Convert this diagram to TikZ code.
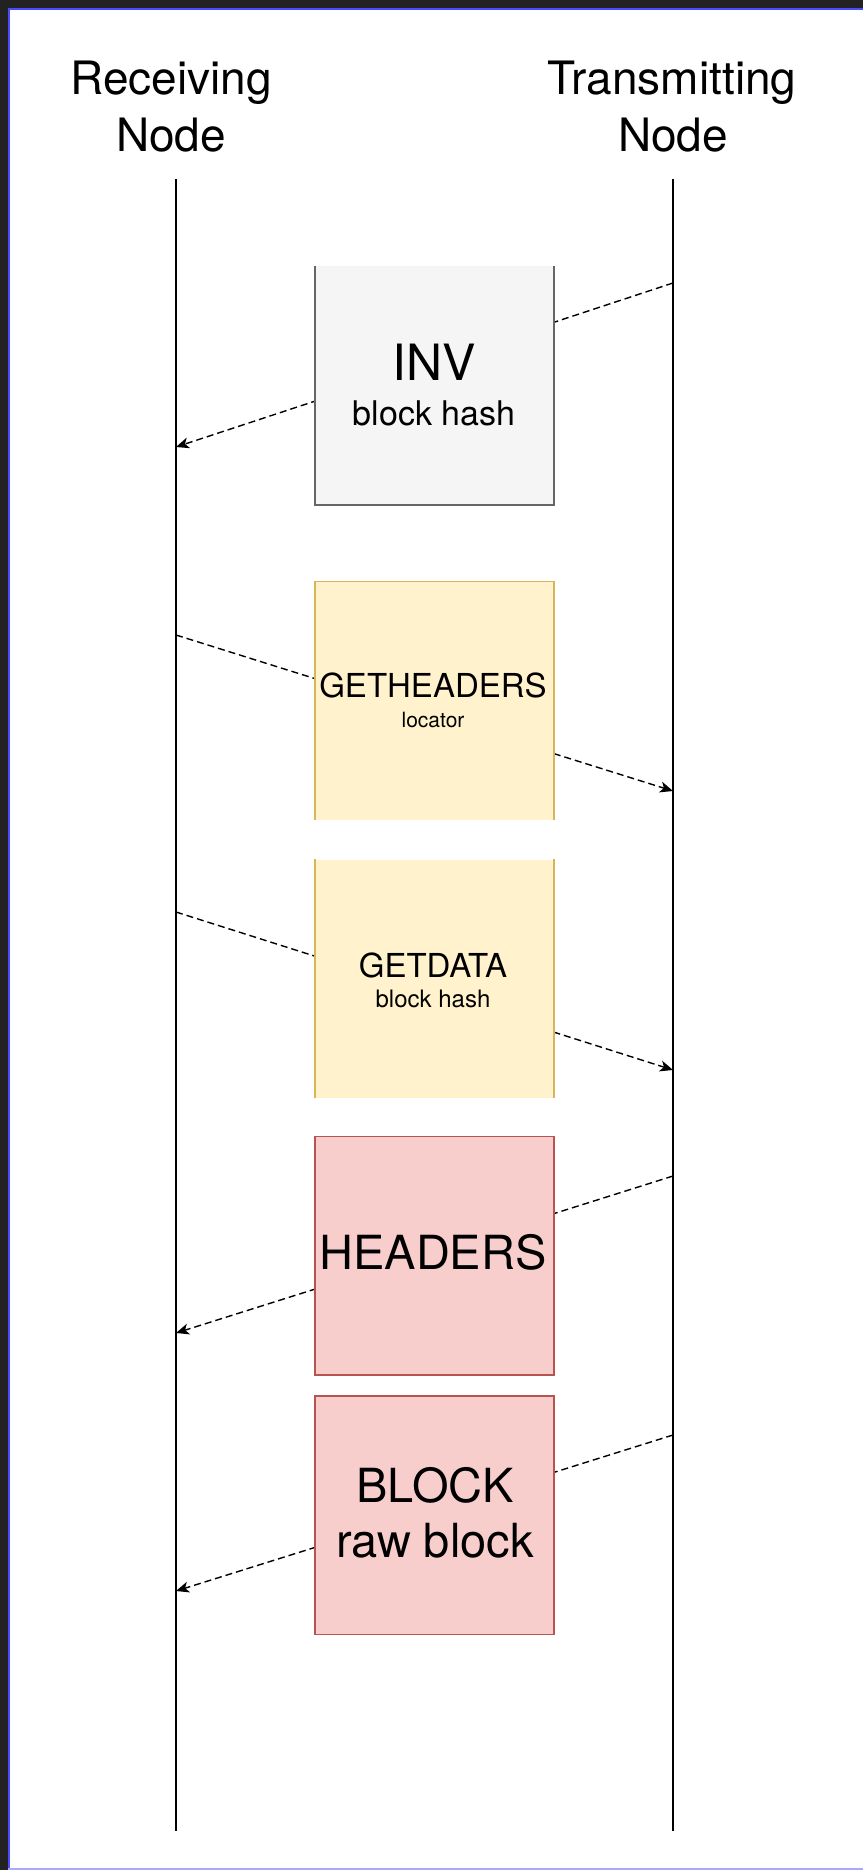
\documentclass[tikz,border=0pt]{standalone}
\usepackage{fontspec}
\setmainfont{TeX Gyre Heros}
\usetikzlibrary{arrows.meta}

\definecolor{frameDark}{HTML}{222222}
\definecolor{frameBlue}{HTML}{4A4AFF}
\definecolor{frameBlueLight}{HTML}{A8A8FF}
\definecolor{grayFill}{HTML}{F5F5F5}
\definecolor{grayLine}{HTML}{666666}
\definecolor{yellowFill}{HTML}{FFF2CC}
\definecolor{yellowLine}{HTML}{D6B656}
\definecolor{redFill}{HTML}{F8CECC}
\definecolor{redLine}{HTML}{B85450}

\newcommand{\fs}[1]{\fontsize{#1}{#1}\selectfont}

\tikzset{
  lifeline/.style={line width=1.6pt, black},
  msg/.style={line width=1.4pt, black, dash pattern=on 7pt off 4pt,
    -{Stealth[length=13pt, width=11pt, inset=3.5pt]}},
  msgbox/.style={rectangle, inner sep=0pt, minimum width=239pt, minimum height=238.5pt},
  txt/.style={inner sep=0pt, anchor=base},
}

\begin{document}
\begin{tikzpicture}[x=1pt, y=-1pt]
  % canvas and frame
  \useasboundingbox (0,0) rectangle (863,1870);
  \fill[frameDark] (0,0) rectangle (863,1870);
  \fill[white] (8,8) rectangle (863,1870);
  \draw[frameBlue, line width=1.6pt] (8.8,1870) -- (8.8,8.8) -- (863,8.8);
  \draw[frameBlueLight, line width=1.4pt] (8,1868.8) -- (863,1868.8);

  % participant titles
  \node[txt, font=\fs{46}] (recvA) at (171,95) {Receiving};
  \node[txt, font=\fs{46}] (recvB) at (171,152) {Node};
  \node[txt, font=\fs{46}] (sendA) at (672,95) {Transmitting};
  \node[txt, font=\fs{46}] (sendB) at (673,152) {Node};

  % lifelines
  \coordinate (rTop) at (176,179);
  \coordinate (rBot) at (176,1831);
  \coordinate (tTop) at (673,179);
  \coordinate (tBot) at (673,1831);
  \draw[lifeline] (rTop) -- (rBot);
  \draw[lifeline] (tTop) -- (tBot);

  % message end points on the lifelines
  \coordinate (invFrom) at (673,283);
  \coordinate (invTo)   at (176,447);
  \coordinate (ghFrom)  at (176,635);
  \coordinate (ghTo)    at (673,791);
  \coordinate (gdFrom)  at (176,912);
  \coordinate (gdTo)    at (673,1070);
  \coordinate (hdFrom)  at (673,1176);
  \coordinate (hdTo)    at (176,1333);
  \coordinate (blFrom)  at (673,1435);
  \coordinate (blTo)    at (176,1591);

  % messages (drawn first so the boxes sit on top of them)
  \draw[msg] (invFrom) -- (invTo);
  \draw[msg] (ghFrom) -- (ghTo);
  \draw[msg] (gdFrom) -- (gdTo);
  \draw[msg] (hdFrom) -- (hdTo);
  \draw[msg] (blFrom) -- (blTo);

  % message boxes
  \node[msgbox, fill=grayFill] (inv) at (434.5,385.5) {};
  \draw[grayLine, line width=1.5pt] (inv.north west) -- (inv.south west) -- (inv.south east) -- (inv.north east);

  \node[msgbox, fill=yellowFill] (gethdr) at (434.5,700.75) {};
  \draw[yellowLine, line width=1.5pt] (gethdr.south west) -- (gethdr.north west) -- (gethdr.north east) -- (gethdr.south east);

  \node[msgbox, fill=yellowFill] (getdata) at (434.5,978.75) {};
  \draw[yellowLine, line width=1.5pt] (getdata.south west) -- (getdata.north west);
  \draw[yellowLine, line width=1.5pt] (getdata.south east) -- (getdata.north east);

  \node[msgbox, fill=redFill, draw=redLine, line width=1.5pt] (headers) at (434.5,1255.5) {};
  \node[msgbox, fill=redFill, draw=redLine, line width=1.5pt] (block) at (434.5,1515) {};

  % box labels
  \node[txt, font=\fs{50}] (invT) at (434,380) {INV};
  \node[txt, font=\fs{34}] (invS) at (434,425) {block hash};

  \node[txt, font=\fs{33}] (ghT) at (433,697) {GETHEADERS};
  \node[txt, font=\fs{21}] (ghS) at (433,727) {locator};

  \node[txt, font=\fs{33}] (gdT) at (433,977) {GETDATA};
  \node[txt, font=\fs{24}] (gdS) at (433,1007) {block hash};

  \node[txt, font=\fs{47}] (hdT) at (433,1269) {HEADERS};

  \node[txt, font=\fs{47}] (blT) at (435,1502) {BLOCK};
  \node[txt, font=\fs{47}] (blS) at (435,1557) {raw block};
\end{tikzpicture}
\end{document}
